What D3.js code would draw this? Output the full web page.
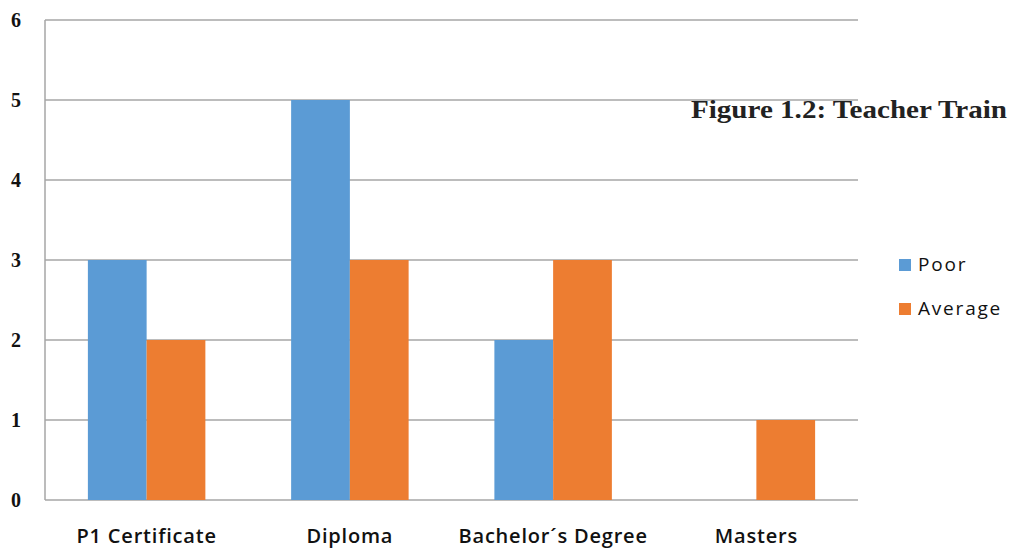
<!DOCTYPE html>
<html>
<head>
<meta charset="utf-8">
<script src="https://cdn.jsdelivr.net/npm/d3@7"></script>
<style>
  html, body { margin: 0; padding: 0; background: #fff; }
  svg { display: block; }
</style>
</head>
<body>
<svg id="chart" width="1009" height="548"></svg>
<script>
// Teacher training levels by rating
const categories = ["P1 Certificate", "Diploma", "Bachelor\u00b4s Degree", "Masters"];
const seriesNames = ["Poor", "Average"];
const poorValues = [3, 5, 2, 0];
const averageValues = [2, 3, 3, 1];
const yTicks = [0, 1, 2, 3, 4, 5, 6];
const seriesColors = ["#5b9bd5", "#ed7d31"];
const titleText = "Figure 1.2: Teacher Train";

const values = [poorValues, averageValues];
const svg = d3.select("#chart");

const plot = { left: 45, right: 858, top: 20, bottom: 500 };

const x0 = d3.scaleBand().domain(categories).range([plot.left, plot.right]).padding(0);
const x1 = d3.scaleBand().domain(seriesNames).range([0, x0.bandwidth()])
  .paddingInner(0).paddingOuter(0.73);
const y = d3.scaleLinear().domain([0, 6]).range([plot.bottom, plot.top]);

// horizontal gridlines
svg.append("g")
  .selectAll("line")
  .data(yTicks)
  .join("line")
  .attr("x1", plot.left).attr("x2", plot.right)
  .attr("y1", d => y(d)).attr("y2", d => y(d))
  .attr("stroke", "#a6a6a6").attr("stroke-width", 1.5);

// vertical axis line
svg.append("line")
  .attr("x1", plot.left).attr("x2", plot.left)
  .attr("y1", y(6)).attr("y2", y(0))
  .attr("stroke", "#a6a6a6").attr("stroke-width", 1.5);

// y tick labels
const yAxis = d3.axisLeft(y).tickValues(yTicks).tickSize(0).tickPadding(0).tickFormat(d3.format("d"));
const gy = svg.append("g").attr("transform", `translate(21,0)`).call(yAxis);
gy.select(".domain").remove();
gy.selectAll("text")
  .attr("dy", "0.3em")
  .attr("font-family", "'Liberation Serif', serif")
  .attr("font-weight", "bold")
  .attr("font-size", 20)
  .attr("fill", "#111");

// bars
const groups = svg.append("g")
  .selectAll("g")
  .data(categories)
  .join("g")
  .attr("transform", d => `translate(${x0(d)},0)`);

groups.selectAll("rect")
  .data((c, i) => seriesNames.map((s, j) => ({ s, j, v: values[j][i] })))
  .join("rect")
  .attr("x", d => x1(d.s))
  .attr("width", x1.bandwidth())
  .attr("y", d => y(d.v))
  .attr("height", d => y(0) - y(d.v))
  .attr("fill", d => seriesColors[d.j]);

// category labels
const xAxis = d3.axisBottom(x0).tickSize(0).tickPadding(0);
const gx = svg.append("g").attr("transform", `translate(0,${plot.bottom + 43})`).call(xAxis);
gx.select(".domain").remove();
gx.selectAll("text")
  .attr("dy", 0)
  .attr("font-family", "'Open Sans', sans-serif")
  .attr("font-weight", 600)
  .attr("font-size", 20)
  .attr("letter-spacing", 0.8)
  .attr("fill", "#111");

// legend
const legend = svg.append("g")
  .selectAll("g")
  .data(seriesNames)
  .join("g")
  .attr("transform", (d, i) => `translate(899,${259 + i * 44})`);
legend.append("rect")
  .attr("width", 12).attr("height", 12)
  .attr("fill", (d, i) => seriesColors[i]);
legend.append("text")
  .attr("x", 19).attr("y", 12)
  .attr("font-family", "'Open Sans', sans-serif")
  .attr("font-size", 19)
  .attr("letter-spacing", 1.8)
  .attr("fill", "#111")
  .text(d => d);

// figure caption
svg.append("text")
  .attr("x", 691).attr("y", 118)
  .attr("font-family", "'Liberation Serif', serif")
  .attr("font-weight", "bold")
  .attr("font-size", 25)
  .attr("textLength", 316)
  .attr("lengthAdjust", "spacingAndGlyphs")
  .attr("fill", "#222")
  .text(titleText);
</script>
</body>
</html>
